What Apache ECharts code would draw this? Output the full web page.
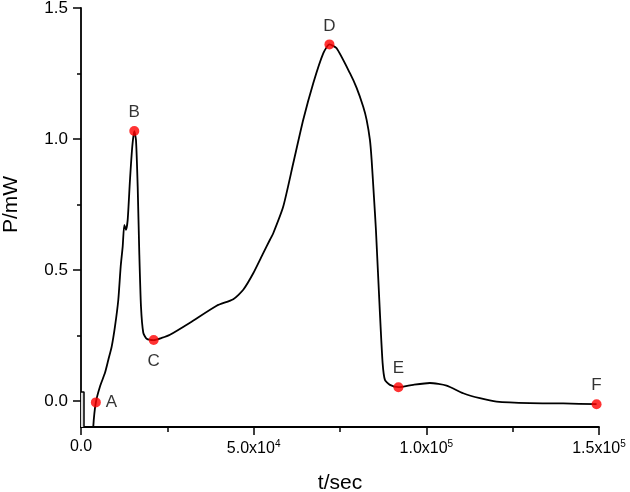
<!DOCTYPE html>
<html>
<head>
<meta charset="utf-8">
<script src="https://cdn.jsdelivr.net/npm/echarts@6/dist/echarts.min.js"></script>
<style>html,body{margin:0;padding:0;background:#fff;}#c{width:630px;height:492px;}</style>
</head>
<body>
<div id="c"></div>
<script>
// t (sec), P (mW)
const curveT = [3400, 3561, 4300, 5500, 6948, 7903, 8888, 9843, 10798, 11493, 12072, 12535, 13028, 13520, 14186, 14851, 15430, 15923, 16415, 16878, 17370, 18036, 19020, 21050, 23363, 25766, 31556, 39285, 44091, 46986, 49881, 52776, 54716, 55671, 58566, 61461, 64356, 67251, 70146, 71941, 74025, 77876, 79815, 81726, 82710, 83666, 84158, 84824, 85403, 86561, 87342, 88008, 89456, 91916, 96200, 101036, 105869, 110675, 115510, 120346, 129986, 139627, 149294];
const curveP = [-0.2, -0.098, -0.006, 0.055, 0.107, 0.156, 0.207, 0.284, 0.385, 0.513, 0.589, 0.672, 0.653, 0.691, 0.844, 0.971, 1.03, 0.996, 0.818, 0.565, 0.360, 0.260, 0.237, 0.232, 0.240, 0.252, 0.298, 0.363, 0.388, 0.424, 0.487, 0.564, 0.615, 0.640, 0.742, 0.907, 1.073, 1.213, 1.327, 1.361, 1.346, 1.251, 1.195, 1.123, 1.073, 0.996, 0.920, 0.780, 0.653, 0.335, 0.144, 0.080, 0.061, 0.052, 0.061, 0.068, 0.058, 0.029, 0.010, -0.003, -0.009, -0.010, -0.013];
// initial artefact at t ~ 0
const startT = [0, 870, 870];
const startP = [0.034, 0.034, -0.2];
// labelled points
const pointNames = ['A', 'B', 'C', 'D', 'E', 'F'];
const pointT = [4300, 15430, 21050, 71941, 91916, 149294];
const pointP = [-0.006, 1.03, 0.232, 1.361, 0.052, -0.013];
const pointLabelPos = ['right', 'top', 'bottom', 'top', 'top', 'top'];
// ticks
const xTicks = [0, 50000, 100000, 150000];
const xTickLabels = ['0.0', '5.0x10^4', '1.0x10^5', '1.5x10^5'];
const yTicks = [0, 0.5, 1.0, 1.5];
const yTickLabels = ['0.0', '0.5', '1.0', '1.5'];
const yMinorTicks = [0.25, 0.75, 1.25];

const FONT = '"Liberation Sans", Arial, sans-serif';
const chart = echarts.init(document.getElementById('c'), null, {renderer: 'canvas'});

const curve = curveT.map((t, i) => [t, curveP[i]]);
const start = startT.map((t, i) => [t, startP[i]]);
const pts = pointT.map((t, i) => ({
  value: [t, pointP[i]],
  name: pointNames[i],
  label: {position: pointLabelPos[i], distance: pointLabelPos[i] === 'bottom' ? 8 : 5}
}));

function xFmt(v) {
  const i = xTicks.indexOf(v);
  if (i < 0) return '';
  const s = xTickLabels[i];
  const parts = s.split('^');
  if (parts.length === 1) return '{m|' + s + '}';
  return '{m|' + parts[0] + '}{s|' + parts[1] + '}';
}
function yFmt(v) {
  const i = yTicks.findIndex(t => Math.abs(t - v) < 1e-9);
  return i < 0 ? '' : yTickLabels[i];
}

const axisLineStyle = {color: '#000', width: 1.8};

chart.setOption({
  animation: false,
  backgroundColor: '#fff',
  grid: {left: 81, right: 31, top: 8, bottom: 65, containLabel: false, outerBoundsMode: 'none'},
  xAxis: {
    type: 'value', min: 0, max: 150000, interval: 50000,
    name: 't/sec', nameLocation: 'middle', nameGap: 46,
    nameTextStyle: {fontFamily: FONT, fontSize: 21, color: '#000'},
    axisLine: {show: true, onZero: false, lineStyle: axisLineStyle},
    axisTick: {show: true, inside: false, length: 8, lineStyle: {color: '#000', width: 1.5}},
    minorTick: {show: true, splitNumber: 2, length: 5, lineStyle: {color: '#000', width: 1.5}},
    splitLine: {show: false},
    axisLabel: {
      formatter: xFmt, margin: 12, color: '#000',
      rich: {
        m: {fontFamily: FONT, fontSize: 16, color: '#000'},
        s: {fontFamily: FONT, fontSize: 10, color: '#000', verticalAlign: 'top', padding: [0, 0, 9, 0]}
      }
    }
  },
  yAxis: [{
    type: 'value', min: -0.1, max: 1.5,
    name: 'P/mW', nameLocation: 'middle', nameGap: 59, nameRotate: 90,
    nameTextStyle: {fontFamily: FONT, fontSize: 21, color: '#000', padding: [0, 0, 0, 26]},
    axisLine: {show: true, onZero: false, lineStyle: axisLineStyle},
    axisTick: {show: true, length: 8, customValues: yTicks, lineStyle: {color: '#000', width: 1.5}},
    axisLabel: {customValues: yTicks, formatter: yFmt, fontFamily: FONT, fontSize: 17, color: '#000', margin: 13},
    splitLine: {show: false}
  }, {
    type: 'value', min: -0.1, max: 1.5, position: 'left',
    axisLine: {show: false},
    axisTick: {show: true, length: 4, customValues: yMinorTicks, lineStyle: {color: '#000', width: 1.5}},
    axisLabel: {show: false},
    splitLine: {show: false}
  }],
  series: [{
    type: 'line', data: start, showSymbol: false, symbol: 'none',
    lineStyle: {color: '#000', width: 1.5},
    areaStyle: {color: '#dcdcdc', opacity: 1, origin: 'start'},
    clip: true, z: 1
  }, {
    type: 'line', data: curve, showSymbol: false, symbol: 'none',
    smooth: 0.2,
    lineStyle: {color: '#000', width: 1.8},
    clip: true, z: 2
  }, {
    type: 'scatter', data: pts, symbol: 'circle', symbolSize: 10,
    itemStyle: {color: '#ff0000'},
    label: {show: true, formatter: p => p.name, fontFamily: FONT, fontSize: 17, color: '#000'},
    clip: false, z: 3
  }]
});
</script>
</body>
</html>
